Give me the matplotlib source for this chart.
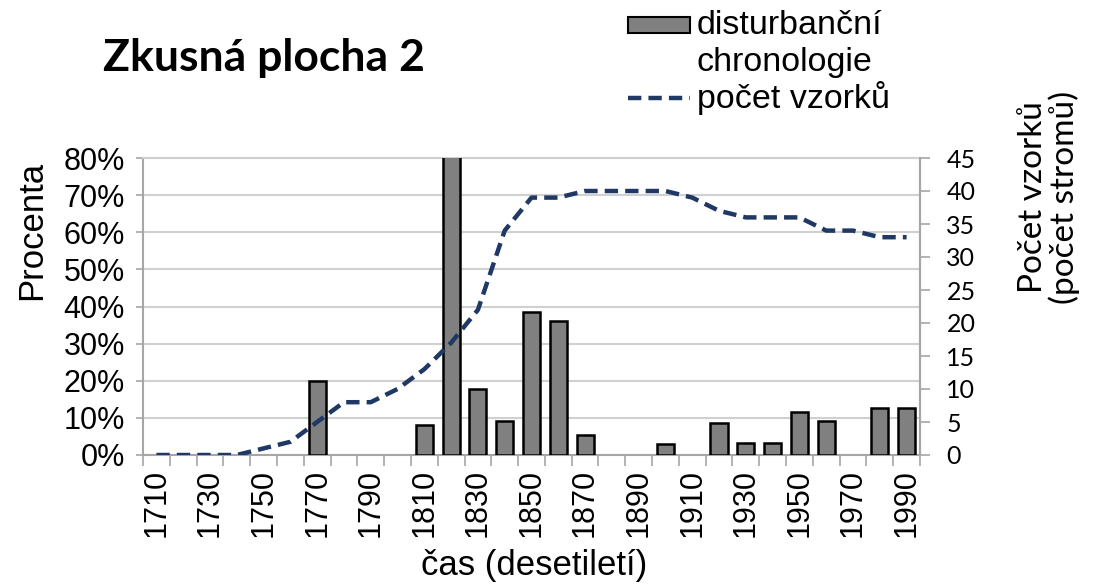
import matplotlib
matplotlib.use("Agg")
import matplotlib.pyplot as plt
from matplotlib.patches import Rectangle
from matplotlib.lines import Line2D
import numpy as np

decades = list(range(1710, 2000, 10))
disturbance_pct = [0, 0, 0, 0, 0, 0, 20, 0, 0, 0, 8, 100, 17.7, 9.2, 38.6, 36, 5.4, 0, 0, 2.9,
                   0, 8.6, 3.2, 3.2, 11.5, 9.2, 0, 12.6, 12.6]
sample_count = [0, 0, 0, 0, 1, 2, 5, 8, 8, 10, 13, 17, 22, 34, 39, 39, 40, 40, 40, 40,
                39, 37, 36, 36, 36, 34, 34, 33, 33]
pct_ticks = [0, 10, 20, 30, 40, 50, 60, 70, 80]
count_ticks = [0, 5, 10, 15, 20, 25, 30, 35, 40, 45]

W, H = 1101, 588
fig = plt.figure(figsize=(W / 100, H / 100), dpi=100)
ax = fig.add_axes([143 / W, 1 - 455 / H, (920 - 143) / W, (455 - 158) / H])
ax2 = ax.twinx()

x = np.arange(len(decades))
vals = np.array(disturbance_pct, dtype=float)
nz = vals > 0
grey = "#a6a6a6"
arial = "Liberation Sans"
calibri = "Lato"
navy = "#1f3864"
dash = (0, (3, 1.6))

ax.set_axisbelow(True)
ax.bar(x[nz], vals[nz], width=0.64, color="#808080", edgecolor="black", linewidth=1.8, zorder=3)
ax.set_ylim(0, 80)
ax.set_xlim(-0.5, len(decades) - 0.5)
ax.set_yticks(pct_ticks)
ax.set_yticklabels([f"{v}%" for v in pct_ticks], fontsize=22, family=arial)
ax.yaxis.grid(True, color="#d0d0d0", linewidth=1.5)
ax.tick_params(axis="y", length=5, color=grey, width=1.2, pad=8)

# x ticks at category boundaries, labels on every other category
ax.set_xticks(np.arange(-0.5, len(decades), 1.0))
ax.set_xticklabels([])
ax.set_xticks(x[::2], minor=True)
ax.set_xticklabels([str(d) for d in decades[::2]], minor=True, rotation=90,
                   fontsize=22, family=arial)
ax.tick_params(axis="x", which="major", length=8, color=grey, width=1.2)
ax.tick_params(axis="x", which="minor", length=0, pad=10)

for side in ["left", "right", "bottom"]:
    ax.spines[side].set_color(grey)
    ax.spines[side].set_linewidth(1.5)
ax.spines["top"].set_color("#d0d0d0")
ax.spines["top"].set_linewidth(1.5)

ax2.plot(x, sample_count, color=navy, linestyle=dash, linewidth=3.2, zorder=4)
ax2.set_ylim(0, 45)
ax2.set_yticks(count_ticks)
ax2.set_yticklabels([str(v) for v in count_ticks], fontsize=18, family=calibri)
ax2.tick_params(axis="y", length=7, color=grey, width=1.2, pad=12)
for s in ax2.spines.values():
    s.set_visible(False)
ax2.spines["right"].set_visible(True)
ax2.spines["right"].set_color(grey)
ax2.spines["right"].set_linewidth(1.5)
ax.set_zorder(ax2.get_zorder() - 1)
ax.patch.set_visible(True)
ax2.patch.set_visible(False)

fig.text(32 / W, 1 - 230 / H, "Procenta", fontsize=25, family=arial, rotation=90,
         ha="center", va="center")
fig.text(534 / W, 1 - 565 / H, "čas (desetiletí)", fontsize=25, family=arial,
         ha="center", va="center")
fig.text(1049 / W, 1 - 197 / H, "Počet vzorků\n(počet stromů)", fontsize=24, family=calibri,
         rotation=90, ha="center", va="center", multialignment="center", linespacing=1.0)

fig.text(103 / W, 1 - 58 / H, "Zkusná plocha 2", fontsize=32, fontweight="bold",
         family=calibri, va="center", ha="left")

# legend (drawn in figure pixel coordinates)
def fx(px):
    return px / W

def fy(py):
    return 1 - py / H

fig.patches.append(Rectangle((fx(628), fy(33)), fx(690) - fx(628), fy(17) - fy(33),
                             transform=fig.transFigure, facecolor="#808080",
                             edgecolor="black", linewidth=1.5))
fig.lines.append(Line2D([fx(628), fx(690)], [fy(98), fy(98)], transform=fig.transFigure,
                        color=navy, linestyle=dash, linewidth=3.2))
for txt, py in [("disturbanční", 25), ("chronologie", 62), ("počet vzorků", 98)]:
    fig.text(fx(697), fy(py), txt, fontsize=24.5, family=arial, ha="left", va="center")

fig.savefig("out.png", dpi=100)
